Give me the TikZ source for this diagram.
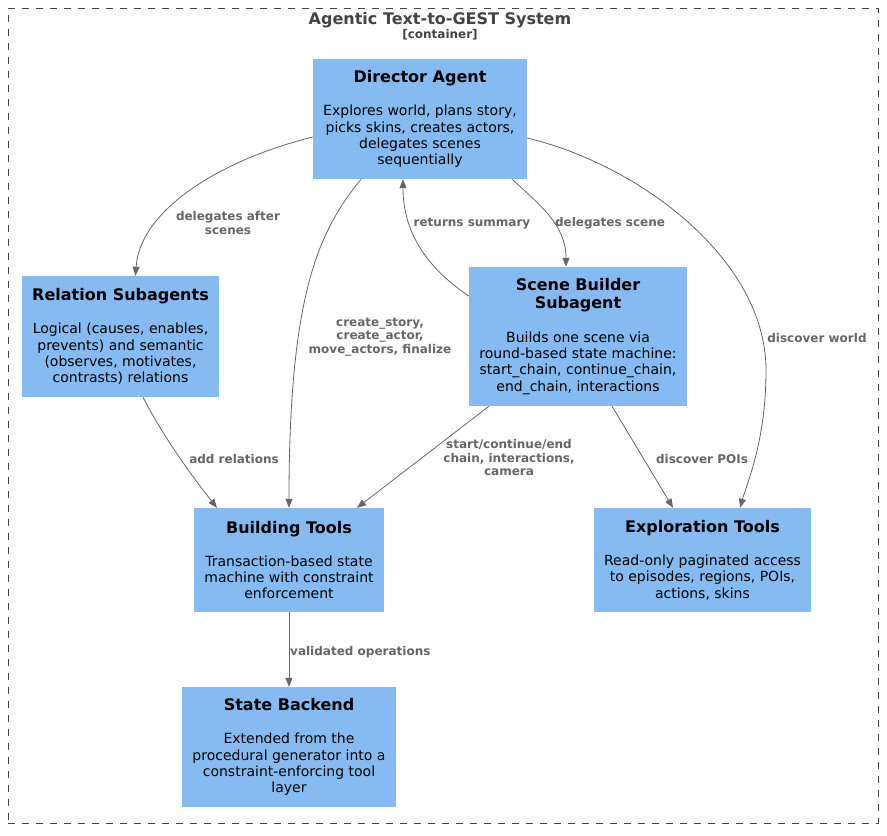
\documentclass[tikz,border=0pt]{standalone}
\usepackage{fontspec}
\setmainfont{DejaVu Sans}
\usetikzlibrary{arrows.meta}
\definecolor{boxblue}{HTML}{85BBF0}
\definecolor{edgegray}{HTML}{666666}
\definecolor{titlegray}{HTML}{444444}
\newcommand{\boxtitle}[1]{{\bfseries\fontsize{16}{18.5}\selectfont #1}}
\begin{document}
\begin{tikzpicture}[x=1pt,y=-1pt,
  box/.style={fill=boxblue, draw=none, align=center, inner sep=0pt, text=black,
    font=\fontsize{14}{16.3}\selectfont},
  conn/.style={draw=edgegray, line width=0.8pt, -{Triangle[length=9pt,width=7pt]}},
  elabel/.style={text=edgegray, font=\bfseries\fontsize{12}{13.5}\selectfont, align=center, inner sep=0pt},
  frame/.style={draw=titlegray, line width=0.8pt, dash pattern=on 7pt off 7pt}]
\useasboundingbox (0,0) rectangle (887,836);
\node[frame, minimum width=870pt, minimum height=815pt, inner sep=0pt] (sys) at (443,415.5) {};
\node[text=titlegray, font=\bfseries\fontsize{16}{18}\selectfont, inner sep=0pt] (systitle) at (440,20) {Agentic Text-to-GEST System};
\node[text=titlegray, font=\bfseries\fontsize{12}{13}\selectfont, inner sep=0pt] (sysst) at (440,34.5) {[container]};

\node[box, minimum width=214pt, minimum height=120pt] (dir) at (420,119)
  {\boxtitle{Director Agent}\\[17pt]Explores world, plans story,\\picks skins, creates actors,\\delegates scenes\\sequentially};
\node[box, minimum width=197pt, minimum height=121pt] (rel) at (120.5,336.5)
  {\boxtitle{Relation Subagents}\\[17pt]Logical (causes, enables,\\prevents) and semantic\\(observes, motivates,\\contrasts) relations};
\node[box, minimum width=218pt, minimum height=139pt] (sb) at (578,336.5)
  {\boxtitle{Scene Builder}\\[2pt]\boxtitle{Subagent}\\[17pt]Builds one scene via\\round-based state machine:\\start\_chain, continue\_chain,\\end\_chain, interactions};
\node[box, minimum width=190pt, minimum height=104pt] (bt) at (289,560)
  {\boxtitle{Building Tools}\\[17pt]Transaction-based state\\machine with constraint\\enforcement};
\node[box, minimum width=217pt, minimum height=104pt] (ex) at (702.5,560)
  {\boxtitle{Exploration Tools}\\[17pt]Read-only paginated access\\to episodes, regions, POIs,\\actions, skins};
\node[box, minimum width=214pt, minimum height=120pt] (sbk) at (289,747)
  {\boxtitle{State Backend}\\[17pt]Extended from the\\procedural generator into a\\constraint-enforcing tool\\layer};

% connectors
\draw[conn] ([yshift=-18pt]dir.west) .. controls (220,160) and (140,210) .. ([xshift=15pt]rel.north);
\draw[conn] ([xshift=-59pt]dir.south) .. controls (320,230) and (289,290) .. (bt.north);
\draw[conn] ([yshift=40.5pt]sb.west) .. controls (430,270) and (403,235) .. ([xshift=-17pt]dir.south);
\draw[conn] ([xshift=92pt]dir.south) .. controls (540,205) and (566,225) .. ([xshift=-12pt]sb.north);
\draw[conn] ([yshift=-19pt]dir.east) .. controls (640,165) and (766,260) .. (766,370) .. controls (766,440) and (748,480) .. ([xshift=37.5pt]ex.north);
\draw[conn] ([xshift=22.5pt]rel.south) .. controls (165,440) and (195,480) .. ([xshift=-72pt]bt.north);
\draw[conn] ([xshift=-89pt]sb.south) -- ([xshift=68pt]bt.north);
\draw[conn] ([xshift=34pt]sb.south) -- ([xshift=-29.5pt]ex.north);
\draw[conn] (bt.south) -- (sbk.north);

% labels
\node[elabel] (l1) at (228,223) {delegates after\\scenes};
\node[elabel] (l2) at (380,337) {create\_story,\\create\_actor,\\move\_actors, finalize};
\node[elabel] (l3) at (472,223.5) {returns summary};
\node[elabel] (l4) at (610,223.5) {delegates scene};
\node[elabel] (l5) at (817,338.5) {discover world};
\node[elabel] (l6) at (234,459) {add relations};
\node[elabel] (l7) at (509,458) {start/continue/end\\chain, interactions,\\camera};
\node[elabel] (l8) at (702,459) {discover POIs};
\node[elabel, anchor=west] (l9) at (290,652) {validated operations};
\end{tikzpicture}
\end{document}
